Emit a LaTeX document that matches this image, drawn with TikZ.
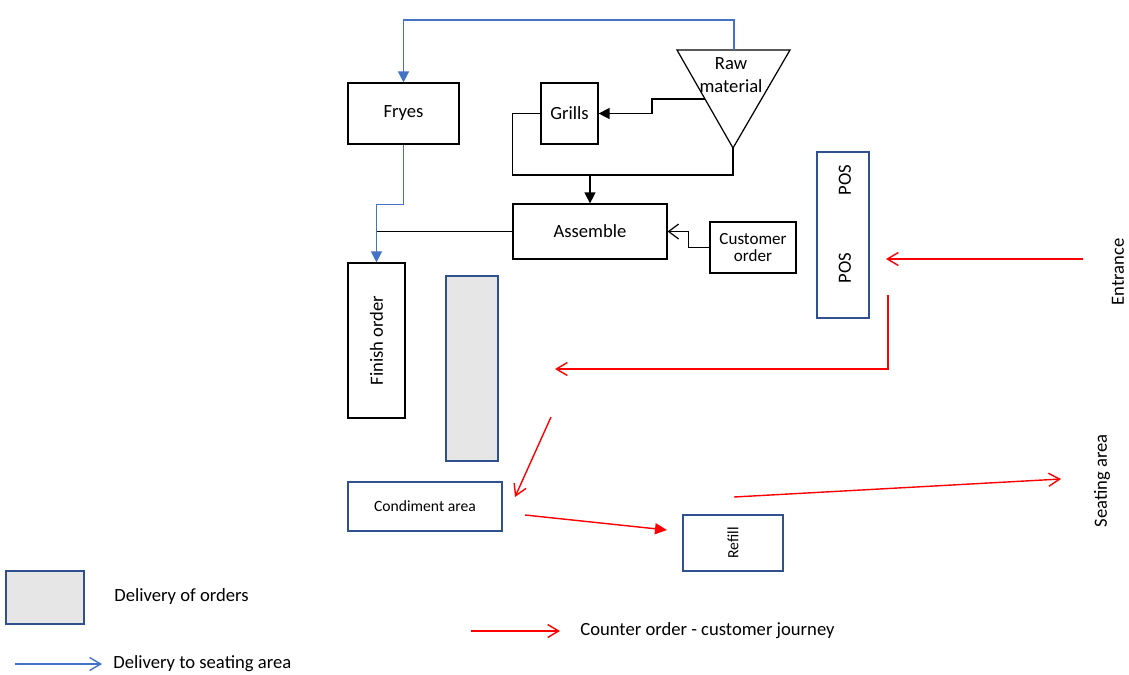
\documentclass[tikz,border=0pt]{standalone}
\usepackage{fontspec}
\usepackage{graphicx}
\setmainfont{Carlito}
\usetikzlibrary{arrows.meta,positioning,calc}
\definecolor{flowblue}{HTML}{4472C4}
\definecolor{edgeblue}{HTML}{2F528F}
\definecolor{softgray}{HTML}{E6E6E6}
\definecolor{journey}{HTML}{FF0000}

\begin{document}
\begin{tikzpicture}[
    x=0.02cm, y=-0.02cm,
    box/.style={draw=black, line width=0.7pt, inner sep=0pt, align=center, font=\fontsize{10.6}{13.5}\selectfont},
    bluebox/.style={box, draw=edgeblue},
    label/.style={inner sep=0pt, font=\fontsize{10.6}{13.5}\selectfont},
    flow/.style={-{Triangle[length=2.2mm, width=2.2mm]}, line width=0.7pt, draw=black},
    feed/.style={-{Straight Barb[length=2mm, width=3mm]}, line width=0.7pt, draw=black},
    delivery/.style={-{Triangle[length=2.2mm, width=2.2mm]}, line width=0.8pt, draw=flowblue},
    walk/.style={-{Straight Barb[length=2.2mm, width=2.6mm]}, line width=0.8pt, draw=journey},
    walkfill/.style={-{Triangle[length=2.4mm, width=2.2mm]}, line width=0.8pt, draw=journey, fill=journey}
]
\useasboundingbox (0,0) rectangle (1129,674);

% kitchen
\node[box, minimum width=2.22cm, minimum height=1.22cm] (fryes) at (403.5,113.5) {Fryes};
\node[box, minimum width=1.14cm, minimum height=1.22cm] (grills) at (569.5,113.5) {Grills};
\draw[line width=0.7pt] (677,50) coordinate (rawleft) -- (790,50) coordinate (rawright)
    -- (733,148) coordinate (rawtip) -- cycle;
\coordinate (rawtop) at (734,50);
\coordinate (rawside) at (705,99);
\node[label, align=center] (raw) at (731,75) {Raw\\material};
\node[box, minimum width=3.08cm, minimum height=1.10cm] (assemble) at (590,231.5) {Assemble};
\node[box, minimum width=1.72cm, minimum height=1.02cm, font=\fontsize{9.7}{10}\selectfont] (custorder) at (753,247.5) {Customer\\order};
\node[box, minimum width=1.14cm, minimum height=3.10cm] (finish) at (376.5,340.5) {\rotatebox{90}{Finish order}};
\node[bluebox, fill=softgray, minimum width=1.04cm, minimum height=3.70cm] (pickup) at (472,368.5) {};

% counter
\node[bluebox, minimum width=1.04cm, minimum height=3.32cm] (pos) at (843,235) {};
\node[label, rotate=90] (posup) at (845,180) {POS};
\node[label, rotate=90] (poslow) at (845,268) {POS};
\node[label, rotate=90] (entrance) at (1118,272) {Entrance};
\node[bluebox, minimum width=3.08cm, minimum height=0.98cm, font=\fontsize{8.9}{10}\selectfont] (condiment) at (425,506.5) {Condiment area};
\node[bluebox, minimum width=2.00cm, minimum height=1.12cm, font=\fontsize{8.9}{10}\selectfont] (refill) at (733,543) {\rotatebox{90}{Refill}};
\node[label, rotate=90] (seating) at (1102,481) {Seating area};

% kitchen flow
\draw[delivery] (rawtop) -- (734,20) -| (fryes.north);
\draw[flow] (rawside) -- (652,99) |- (grills.east);
\coordinate (join) at (590,175);
\draw[line width=0.7pt] (grills.west) -- ++(-28,0) |- (join);
\draw[line width=0.7pt] (rawtip) |- (join);
\draw[flow] (join) -- (assemble.north);
\draw[feed] (custorder.west) -- ++(-21,0) |- (assemble.east);
\draw[line width=0.7pt] (assemble.west) -- (assemble.west -| finish.north);
\draw[delivery] (fryes.south) -- ++(0,60) -| (finish.north);

% customer journey
\coordinate (door) at (1083,259);
\coordinate (atpos) at (886,259);
\coordinate (posexit) at (888,295);
\coordinate (queue) at (555,369);
\coordinate (turnfrom) at (551,417);
\coordinate (turnto) at (515,497);
\coordinate (sauce) at (525,515);
\coordinate (torefill) at (667,530);
\coordinate (leave) at (734,497);
\coordinate (toseat) at (1061,479);
\draw[walk] (door) -- (atpos);
\draw[walk] (posexit) |- (queue);
\draw[walk] (turnfrom) -- (turnto);
\draw[walkfill] (sauce) -- (torefill);
\draw[walk] (leave) -- (toseat);

% legend
\node[bluebox, fill=softgray, minimum width=1.56cm, minimum height=1.06cm] (keybox) at (45,597.5) {};
\node[label, anchor=west] (keyboxtext) at (114,597) {Delivery of orders};
\coordinate (keybluefrom) at (15,664);
\coordinate (keyblueto) at (102,664);
\draw[delivery, -{Straight Barb[length=2.2mm, width=2.6mm]}] (keybluefrom) -- (keyblueto);
\node[label, anchor=west] (keybluetext) at (113,664) {Delivery to seating area};
\coordinate (keyredfrom) at (471,631);
\coordinate (keyredto) at (560,631);
\draw[walk] (keyredfrom) -- (keyredto);
\node[label, anchor=west] (keyredtext) at (580,631) {Counter order - customer journey};
\end{tikzpicture}
\end{document}
